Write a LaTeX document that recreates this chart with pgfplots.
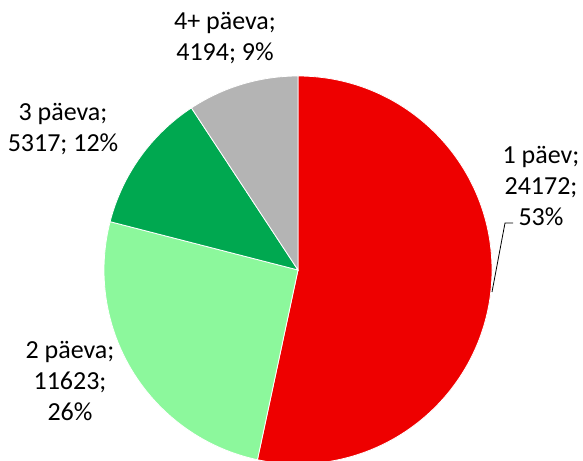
\documentclass[border=0pt]{standalone}
\usepackage{pgfplots}
\usepackage{pgfplotstable}
\pgfplotsset{compat=1.18}
\usepackage{fontspec}
\setmainfont{Carlito}
\definecolor{c1}{RGB}{238,0,0}
\definecolor{c2}{RGB}{140,248,156}
\definecolor{c3}{RGB}{0,168,80}
\definecolor{c4}{RGB}{180,180,180}
\pgfplotstableread{
value
24172
11623
5317
4194
}\piedata
\begin{document}
\begin{tikzpicture}
\useasboundingbox (0,0) rectangle (583bp,461bp);
\clip (0,0) rectangle (583bp,461bp);
\begin{axis}[at={(0,0)},anchor=south west,width=583bp,height=461bp,scale only axis,
  xmin=0,xmax=583,ymin=0,ymax=461,hide axis,clip=false]
\pgfplotstablegetelem{0}{value}\of\piedata \edef\va{\pgfplotsretval}
\pgfplotstablegetelem{1}{value}\of\piedata \edef\vb{\pgfplotsretval}
\pgfplotstablegetelem{2}{value}\of\piedata \edef\vc{\pgfplotsretval}
\pgfplotstablegetelem{3}{value}\of\piedata \edef\vd{\pgfplotsretval}
\edef\tot{\fpeval{\va+\vb+\vc+\vd}}
\edef\aA{\fpeval{90-360*\va/\tot}}
\edef\aB{\fpeval{\aA-360*\vb/\tot}}
\edef\aC{\fpeval{\aB-360*\vc/\tot}}
\edef\aD{\fpeval{\aC-360*\vd/\tot}}
\fill[c1,draw=white,line width=0.8pt] (axis cs:298,191) -- ++(90:194bp) arc[start angle=90,end angle=\aA,radius=194bp] -- cycle;
\fill[c2,draw=white,line width=0.8pt] (axis cs:298,191) -- ++(\aA:194bp) arc[start angle=\aA,end angle=\aB,radius=194bp] -- cycle;
\fill[c3,draw=white,line width=0.8pt] (axis cs:298,191) -- ++(\aB:194bp) arc[start angle=\aB,end angle=\aC,radius=194bp] -- cycle;
\fill[c4,draw=white,line width=0.8pt] (axis cs:298,191) -- ++(\aC:194bp) arc[start angle=\aC,end angle=\aD,radius=194bp] -- cycle;
\draw[black,line width=0.8pt] (axis cs:492,169) -- (axis cs:505,238) -- (axis cs:513,238);
\tikzset{lab/.style={align=center,inner sep=0pt,font=\fontsize{26bp}{31bp}\selectfont}}
\node[lab] at (axis cs:225,422.5) {4+ päeva;\\4194; 9\%};
\node[lab] at (axis cs:63,332) {3 päeva;\\5317; 12\%};
\node[lab] at (axis cs:541,275) {1 päev;\\24172;\\53\%};
\node[lab] at (axis cs:70,80) {2 päeva;\\11623;\\26\%};
\end{axis}
\end{tikzpicture}
\end{document}
